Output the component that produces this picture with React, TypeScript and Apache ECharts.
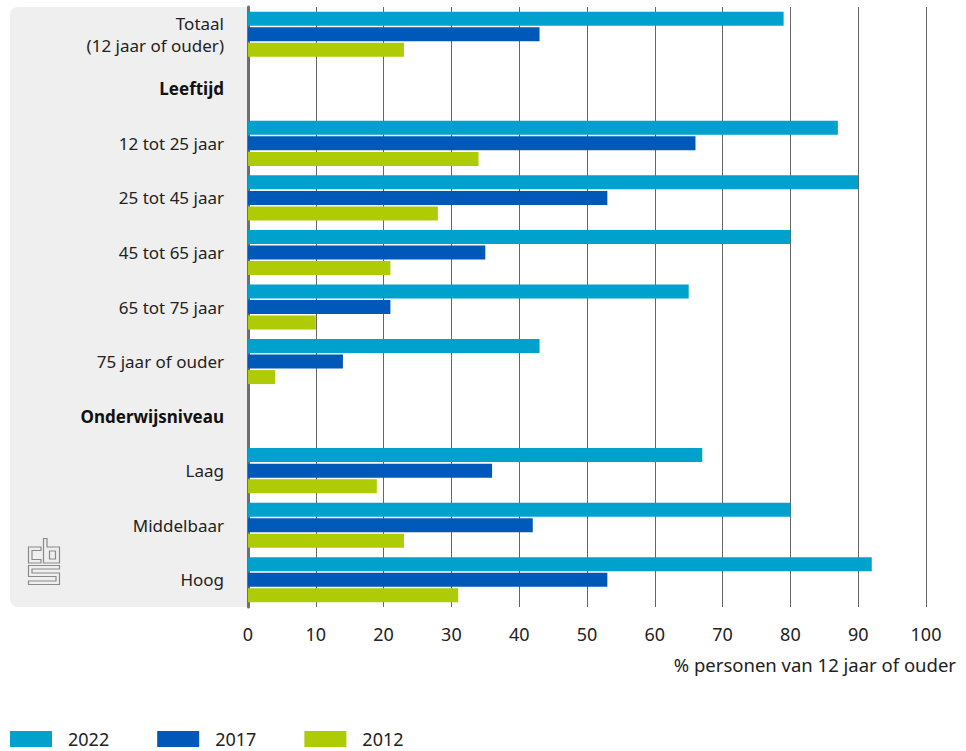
import React, { useEffect, useRef } from "react";
import * as echarts from "echarts";

const categories = [
  "Totaal\n(12 jaar of ouder)",
  "Leeftijd",
  "12 tot 25 jaar",
  "25 tot 45 jaar",
  "45 tot 65 jaar",
  "65 tot 75 jaar",
  "75 jaar of ouder",
  "Onderwijsniveau",
  "Laag",
  "Middelbaar",
  "Hoog",
];
const headerCategories = ["Leeftijd", "Onderwijsniveau"];
const seriesNames = ["2022", "2017", "2012"];
const values2022 = [79, null, 87, 90, 80, 65, 43, null, 67, 80, 92];
const values2017 = [43, null, 66, 53, 35, 21, 14, null, 36, 42, 53];
const values2012 = [23, null, 34, 28, 21, 10, 4, null, 19, 23, 31];
const colors = ["#00a1cd", "#0058b8", "#afcb05"];
const xTicks = { min: 0, max: 100, interval: 10 };
const axisTitle = "% personen van 12 jaar of ouder";

const FONT = "'Noto Sans', sans-serif";
const LOGO_D =
  "M13 9 H0.5 V25 H13 V21.5 H4 V12.5 H13 Z " +
  "M15.5 0.5 H19 V9 H31.5 V25 H15.5 Z M21.5 13 H27.5 V21 H21.5 Z " +
  "M0.5 27.5 H31.5 V31 H4 V35 H31.5 V46.5 H0.5 V43 H28 V38.5 H0.5 Z";

let registered = false;

export default function App() {
  const ref = useRef<HTMLDivElement>(null);
  useEffect(() => {
    if (!ref.current) return;
    if (!registered) {
      echarts.graphic.registerShape("cbslogo", echarts.graphic.extendPath(LOGO_D, {}));
      registered = true;
    }
    const chart = echarts.init(ref.current, null, { renderer: "svg" });
    const allValues = [values2022, values2017, values2012];
    chart.setOption({
      animation: false,
      textStyle: { fontFamily: FONT },
      grid: {
        left: 248,
        right: 40,
        top: 7,
        bottom: 144,
        containLabel: false,
        outerBoundsMode: "none",
      },
      legend: {
        left: 10,
        top: 730,
        padding: 0,
        itemWidth: 42,
        itemHeight: 16,
        itemGap: 48,
        icon: "rect",
        selectedMode: false,
        textStyle: { fontSize: 18, color: "#222", fontFamily: FONT, padding: [0, 0, 0, 11] },
        data: seriesNames,
      },
      xAxis: {
        type: "value",
        min: xTicks.min,
        max: xTicks.max,
        interval: xTicks.interval,
        axisLine: { show: false },
        axisTick: { show: false },
        axisLabel: { margin: 18, fontSize: 18, color: "#222", fontFamily: FONT },
        splitLine: { show: true, lineStyle: { color: "#666", width: 1 } },
      },
      yAxis: {
        type: "category",
        inverse: true,
        data: categories,
        axisLine: { show: true, lineStyle: { color: "#6e6e6e", width: 3 } },
        axisTick: { show: false },
        axisLabel: {
          margin: 24,
          fontSize: 17,
          lineHeight: 22,
          color: "#222",
          fontFamily: FONT,
          formatter: (v: string) =>
            headerCategories.includes(v) ? `{b|${v}}` : v,
          rich: {
            b: { fontWeight: "bold", fontSize: 17, color: "#111", fontFamily: FONT },
          },
        },
        splitLine: { show: false },
      },
      series: seriesNames.map((name, i) => ({
        name,
        type: "bar",
        data: allValues[i],
        barWidth: 14,
        barGap: "11%",
        itemStyle: { color: colors[i] },
      })),
      graphic: [
        {
          type: "rect",
          z: -10,
          silent: true,
          shape: { x: 10, y: 7, width: 238, height: 600, r: [8, 0, 0, 8] },
          style: { fill: "#efefef" },
        },
        {
          type: "cbslogo",
          x: 28,
          y: 538,
          z: -5,
          silent: true,
          style: { fill: "none", stroke: "#8a8a8a", lineWidth: 1.2 },
        },
        {
          type: "text",
          right: 10,
          top: 655,
          silent: true,
          style: { text: axisTitle, fontSize: 18.5, fill: "#222", fontFamily: FONT },
        },
      ],
    });
    return () => chart.dispose();
  }, []);
  return (
    <div
      ref={ref}
      style={{ position: "absolute", left: 0, top: 0, width: 966, height: 751 }}
    />
  );
}
